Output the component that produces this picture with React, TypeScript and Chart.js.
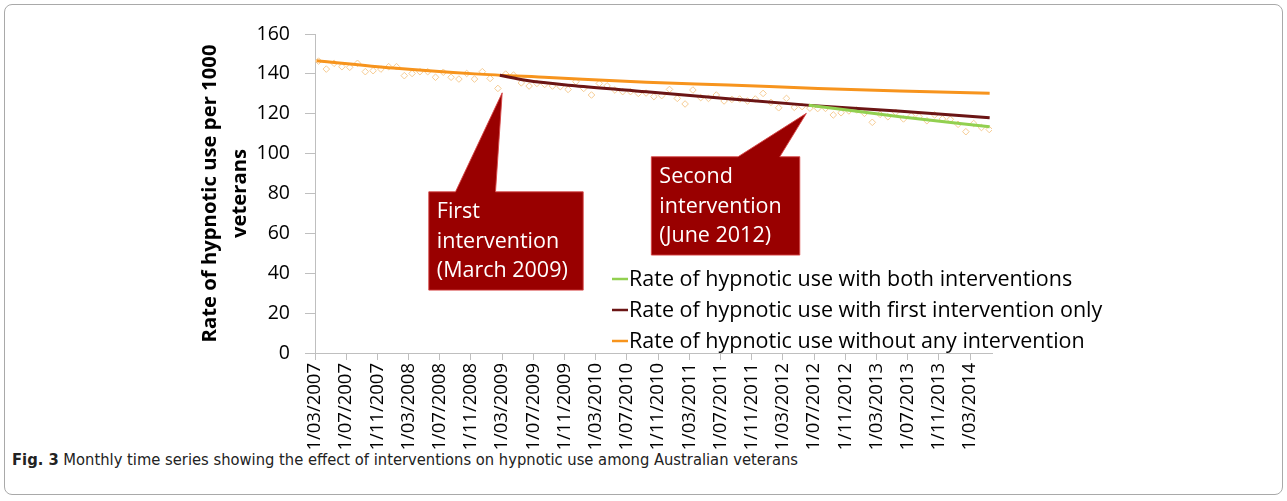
import React, { useEffect, useRef } from 'react';
import { Chart, registerables } from 'chart.js';

Chart.register(...registerables);

// ---- Data ----
// X axis tick labels (every 4 months, starting 1 March 2007)
const tickLabels = [
  '1/03/2007', '1/07/2007', '1/11/2007', '1/03/2008', '1/07/2008', '1/11/2008',
  '1/03/2009', '1/07/2009', '1/11/2009', '1/03/2010', '1/07/2010', '1/11/2010',
  '1/03/2011', '1/07/2011', '1/11/2011', '1/03/2012', '1/07/2012', '1/11/2012',
  '1/03/2013', '1/07/2013', '1/11/2013', '1/03/2014',
];

// Observed monthly rate (Mar 2007 .. May 2014), per 1000 veterans
const observedRate = [
  146.4, 142.4, 145.3, 143.6, 143.3, 145.3, 141.1, 141.6, 142.4, 143.6,
  143.6, 139.1, 140.2, 141.1, 141.1, 138.3, 140.8, 138.3, 137.4, 140.2,
  137.4, 141.1, 137.7, 132.7, 139.9, 139.4, 135.5, 133.9, 135.2, 134.7,
  133.9, 133.6, 132.2, 136.1, 132.7, 129.4, 135.2, 134.0, 131.9, 131.1,
  131.1, 130.2, 130.4, 128.6, 129.1, 132.2, 127.7, 124.9, 131.9, 128.1,
  127.7, 129.4, 126.4, 127.2, 127.4, 126.4, 127.4, 130.2, 125.7, 123.0,
  127.7, 123.2, 123.6, 122.8, 122.6, 122.7, 119.4, 120.5, 121.4, 121.9,
  120.2, 115.7, 119.7, 118.5, 120.7, 117.4, 119.0, 118.5, 116.5, 119.4,
  117.4, 117.2, 114.7, 111.0, 115.1, 113.1, 112.1,
];
// observations are dated mid-month (months after 1/03/2007)
const observationDayOffset = 0.45;

// Trend: without any intervention
const noneMonths = [0.2, 10, 20.5, 30, 42.5, 53, 64.5, 75, 86.5];
const noneRate = [146.6, 142.9, 140.0, 138.2, 135.8, 134.4, 132.7, 131.4, 130.3];

// Trend: with first intervention only
const firstMonths = [23.7, 27, 33.3, 42.5, 53, 63.5, 74.7, 86.5];
const firstRate = [139.3, 136.8, 134.0, 131.0, 127.5, 124.2, 121.4, 118.0];

// Trend: with both interventions
const bothMonths = [63.3, 75, 86.5];
const bothRate = [124.3, 118.5, 113.5];

// Callouts (month index after 1/03/2007, rate at pointer tip)
const calloutMonths = [24, 63];
const calloutRates = [130.5, 120.2];
const calloutTexts = [
  ['First', 'intervention', '(March 2009)'],
  ['Second', 'intervention', '(June 2012)'],
];

const legendLabels = [
  'Rate of hypnotic use with both interventions',
  'Rate of hypnotic use with first intervention only',
  'Rate of hypnotic use without any intervention',
];

// ---- Styles ----
const FONT = '"Open Sans", "Noto Sans", sans-serif';
const C_GREEN = '#92d050';
const C_DARK = '#6b1515';
const C_ORANGE = '#f7941d';
const C_POINT = '#f5cb92';
const C_CALLOUT = '#990000';
const legendColors = [C_GREEN, C_DARK, C_ORANGE];

const CANVAS_W = 1287;
const CANVAS_H = 450;

const calloutGeom = [
  { l: -73.4, t: 99, r: 81, b: 197.3, bl: -46.7, br: -6.7 },
  { l: -155, t: 43.4, r: -6.6, b: 141.7, bl: -68.3, br: -26.6 },
];

const overlayPlugin = {
  id: 'overlay',
  afterDatasetsDraw(chart: any) {
    const { ctx, scales, chartArea } = chart;
    const xs = scales.x;
    const ys = scales.y;
    ctx.save();
    // callouts
    calloutMonths.forEach((m, i) => {
      const tx = xs.getPixelForValue(m);
      const ty = ys.getPixelForValue(calloutRates[i]);
      const g = calloutGeom[i];
      ctx.beginPath();
      ctx.moveTo(tx + g.l, ty + g.t);
      ctx.lineTo(tx + g.bl, ty + g.t);
      ctx.lineTo(tx, ty);
      ctx.lineTo(tx + g.br, ty + g.t);
      ctx.lineTo(tx + g.r, ty + g.t);
      ctx.lineTo(tx + g.r, ty + g.b);
      ctx.lineTo(tx + g.l, ty + g.b);
      ctx.closePath();
      ctx.fillStyle = C_CALLOUT;
      ctx.fill();
      ctx.strokeStyle = 'rgba(214,70,70,0.9)';
      ctx.lineWidth = 1;
      ctx.stroke();
      ctx.fillStyle = '#ffffff';
      ctx.font = `21.5px ${FONT}`;
      ctx.textAlign = 'left';
      ctx.textBaseline = 'alphabetic';
      calloutTexts[i].forEach((line, k) => {
        ctx.fillText(line, tx + g.l + 8, ty + g.t + 26.6 + k * 29.5);
      });
    });
    // legend
    const lx = chartArea.left + 297;
    const ly = chartArea.top + 245;
    ctx.font = `21.5px ${FONT}`;
    ctx.textBaseline = 'middle';
    legendLabels.forEach((lab, i) => {
      const y = ly + i * 31;
      ctx.strokeStyle = legendColors[i];
      ctx.lineWidth = 2.5;
      ctx.beginPath();
      ctx.moveTo(lx, y);
      ctx.lineTo(lx + 16, y);
      ctx.stroke();
      ctx.fillStyle = '#000';
      ctx.fillText(lab, lx + 17, y + 1);
    });
    ctx.restore();
  },
};

export default function App() {
  const canvasRef = useRef<HTMLCanvasElement | null>(null);

  useEffect(() => {
    const canvas = canvasRef.current;
    if (!canvas) return;
    const pts = (months: number[], vals: number[]) => months.map((m, i) => ({ x: m, y: vals[i] }));
    const chart = new Chart(canvas, {
      type: 'line',
      data: {
        datasets: [
          {
            label: legendLabels[0],
            data: pts(bothMonths, bothRate),
            borderColor: C_GREEN,
            borderWidth: 3,
            pointRadius: 0,
            cubicInterpolationMode: 'monotone',
            fill: false,
            order: 1,
          },
          {
            label: legendLabels[1],
            data: pts(firstMonths, firstRate),
            borderColor: C_DARK,
            borderWidth: 3,
            pointRadius: 0,
            cubicInterpolationMode: 'monotone',
            fill: false,
            order: 2,
          },
          {
            label: legendLabels[2],
            data: pts(noneMonths, noneRate),
            borderColor: C_ORANGE,
            borderWidth: 3,
            pointRadius: 0,
            cubicInterpolationMode: 'monotone',
            fill: false,
            order: 3,
          },
          {
            label: 'Observed',
            data: observedRate.map((v, i) => ({ x: i + observationDayOffset, y: v })),
            showLine: false,
            pointStyle: 'rectRot',
            pointRadius: 3.3,
            pointBorderWidth: 1,
            pointBorderColor: C_POINT,
            pointBackgroundColor: 'rgba(255,255,255,0)',
            order: 4,
          },
        ] as any,
      },
      options: {
        animation: false,
        responsive: false,
        devicePixelRatio: 1,
        layout: { padding: { top: 34, right: CANVAS_W - 992, left: 0, bottom: 0 } },
        plugins: {
          legend: { display: false },
          tooltip: { enabled: false },
        },
        scales: {
          x: {
            type: 'linear',
            min: 0,
            max: 86.8,
            afterFit: (s: any) => { s.height = CANVAS_H - 353; },
            ticks: {
              stepSize: 4,
              autoSkip: false,
              includeBounds: false,
              maxRotation: 90,
              minRotation: 90,
              padding: 3,
              color: '#000',
              font: { family: FONT, size: 18.5 },
              callback: (value: any) => {
                const v = Number(value);
                return v % 4 === 0 ? tickLabels[v / 4] : '';
              },
            },
            grid: { drawOnChartArea: false, drawTicks: true, tickLength: 7, color: '#bfbfbf' },
            border: { color: '#bfbfbf', width: 1 },
          },
          y: {
            min: 0,
            max: 160,
            afterFit: (s: any) => { s.width = 315; },
            ticks: {
              stepSize: 20,
              padding: 15,
              color: '#000',
              font: { family: FONT, size: 19.5 },
            },
            grid: { drawOnChartArea: false, drawTicks: true, tickLength: 10, color: '#bfbfbf' },
            border: { color: '#bfbfbf', width: 1 },
            title: {
              display: true,
              text: ['Rate of hypnotic use per 1000', 'veterans'],
              color: '#000',
              font: { family: FONT, size: 20.3, weight: 'bold', lineHeight: 30 / 20.3 },
              padding: { top: 195, bottom: 0 },
            },
          },
        },
      } as any,
      plugins: [overlayPlugin],
    });
    return () => chart.destroy();
  }, []);

  return (
    <div style={{ position: 'absolute', left: 0, top: 0, width: CANVAS_W, height: 501, background: '#fff' }}>
      <div
        style={{
          position: 'absolute', left: 4, top: 4, width: 1279, height: 491,
          boxSizing: 'border-box', border: '1px solid #a9a9a9', borderRadius: 8,
        }}
      />
      <canvas
        ref={canvasRef}
        width={CANVAS_W}
        height={CANVAS_H}
        style={{ position: 'absolute', left: 0, top: 0, width: CANVAS_W, height: CANVAS_H }}
      />
      <div
        style={{
          position: 'absolute', left: 12, top: 450, whiteSpace: 'nowrap',
          fontFamily: '"Liberation Sans Narrow", "DejaVu Sans Condensed", sans-serif',
          fontSize: 16.4, color: '#222',
        }}
      >
        <b>Fig. 3</b> Monthly time series showing the effect of interventions on hypnotic use among Australian veterans
      </div>
    </div>
  );
}
